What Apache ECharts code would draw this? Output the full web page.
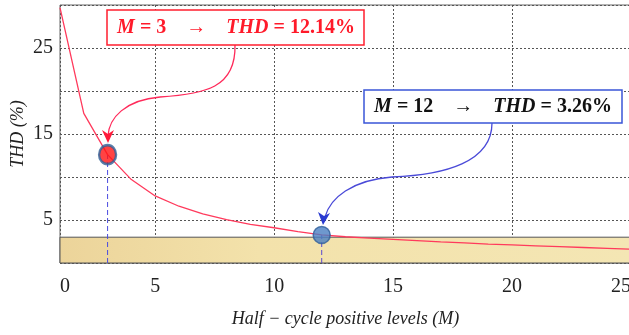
<!DOCTYPE html>
<html><head><meta charset="utf-8">
<script src="https://cdn.jsdelivr.net/npm/echarts@6/dist/echarts.min.js"></script>
<style>html,body{margin:0;padding:0;background:#fff}#c{width:629px;height:335px}</style>
</head><body><div id="c"></div>
<script>
const levels = [1,2,3,4,5,6,7,8,9,10,11,12,13,14,15,16,17,18,19,20,21,22,23,24,25];
const thd = [29.7,17.4,12.6,9.7,7.8,6.6,5.7,5.05,4.5,4.1,3.65,3.26,3.05,2.9,2.75,2.6,2.45,2.35,2.2,2.1,2.0,1.9,1.8,1.7,1.6];
const highlightM = [3, 12];
const highlightTHD = ['12.14', '3.26'];
const xTickValues = [1,5,10,15,20,25];
const xTickLabels = ['0','5','10','15','20','25'];
const yLabelValues = [5,15,25];
const limitBand = [0, 3];

const chart = echarts.init(document.getElementById('c'));
const serif = 'Liberation Serif';
const idx = m => levels.indexOf(m);
const dotA = [highlightM[0], thd[idx(highlightM[0])]];
const dotB = [highlightM[1], thd[idx(highlightM[1])]];

function richLabel(m, v, color) {
  return {
    text: '{i|M}{n| = }{b|' + m + '}{n|    →    }{i|THD}{n| = }{b|' + v + '%}',
    rich: {
      i: {fontFamily: serif, fontStyle: 'italic', fontWeight: 'bold', fontSize: 20, fill: color},
      n: {fontFamily: serif, fontSize: 20, fontWeight: 'bold', fill: color},
      b: {fontFamily: serif, fontSize: 20, fontWeight: 'bold', fill: color}
    }
  };
}

const option = {
  animation: false,
  backgroundColor: '#fff',
  grid: {left: 60, top: 5, width: 571, height: 258, show: true, borderColor: '#666', borderWidth: 1, backgroundColor: '#fff', outerBoundsMode: 'none', containLabel: false},
  xAxis: {
    type: 'value', min: 1, max: 25,
    axisLine: {show: false},
    axisTick: {show: false, customValues: xTickValues},
    axisLabel: {customValues: xTickValues, formatter: v => xTickLabels[xTickValues.indexOf(v)], fontFamily: serif, fontSize: 20, color: '#222', margin: 14, alignMinLabel: 'left', alignMaxLabel: 'right'},
    splitLine: {show: true, lineStyle: {color: '#555', type: [2, 2], width: 1}},
    name: 'Half − cycle positive levels (M)', nameLocation: 'middle', nameGap: 47,
    nameTextStyle: {fontFamily: serif, fontStyle: 'italic', fontSize: 18, color: '#222'}
  },
  yAxis: {
    type: 'value', min: 0, max: 30, interval: 5,
    axisLine: {show: false}, axisTick: {show: false},
    axisLabel: {formatter: v => yLabelValues.includes(v) ? String(v) : '', fontFamily: serif, fontSize: 20, color: '#222', margin: 7},
    splitLine: {show: true, lineStyle: {color: '#555', type: [2, 2], width: 1}},
    name: 'THD (%)', nameLocation: 'middle', nameGap: 33, nameMoveOverlap: false,
    nameTextStyle: {fontFamily: serif, fontStyle: 'italic', fontSize: 18, color: '#222'}
  },
  series: [
    {
      type: 'line', data: levels.map((m, i) => [m, thd[i]]), symbol: 'none', z: 3,
      lineStyle: {color: '#ff3a5c', width: 1.3},
      markArea: {
        silent: true,
        itemStyle: {
          color: new echarts.graphic.LinearGradient(0, 0, 1, 0, [
            {offset: 0, color: '#ecd49a'}, {offset: 0.35, color: '#f3e2ab'}, {offset: 1, color: '#f4e6b4'}
          ]),
          borderColor: '#555', borderWidth: 1
        },
        data: [[{yAxis: limitBand[0]}, {yAxis: limitBand[1]}]]
      }
    },
    {type: 'line', data: [[dotA[0], 0], dotA], symbol: 'none', z: 2, lineStyle: {color: '#4a4ae0', width: 1, type: [5, 3]}},
    {type: 'line', data: [[dotB[0], 0], dotB], symbol: 'none', z: 2, lineStyle: {color: '#5a4ad0', width: 1, type: [5, 3]}},
    {type: 'scatter', data: [dotA], symbolSize: [17, 19], z: 5, itemStyle: {color: '#ff1414', borderColor: '#2f5f96', borderWidth: 2.5}},
    {type: 'scatter', data: [dotB], symbolSize: 17, z: 5, itemStyle: {color: '#4a7ec2', borderColor: '#2e5e9a', borderWidth: 1.5}}
  ],
  graphic: [
    {type: 'bezierCurve', z: 10, shape: {x1: 235, y1: 45, cpx1: 236, cpy1: 88, cpx2: 205, cpy2: 94, x2: 160, y2: 97}, style: {stroke: '#ff2a5a', lineWidth: 1.3, fill: null}},
    {type: 'bezierCurve', z: 10, shape: {x1: 160, y1: 97, cpx1: 125, cpy1: 100, cpx2: 109, cpy2: 118, x2: 108, y2: 136}, style: {stroke: '#ff2a5a', lineWidth: 1.3, fill: null}},
    {type: 'polygon', z: 11, shape: {points: [[108, 143], [102, 130], [108, 134], [114, 130]]}, style: {fill: '#ff1a3a'}},
    {type: 'bezierCurve', z: 10, shape: {x1: 492, y1: 123, cpx1: 492, cpy1: 162, cpx2: 445, cpy2: 175, x2: 392, y2: 177}, style: {stroke: '#4a4ad8', lineWidth: 1.3, fill: null}},
    {type: 'bezierCurve', z: 10, shape: {x1: 392, y1: 177, cpx1: 352, cpy1: 180, cpx2: 330, cpy2: 198, x2: 325, y2: 217}, style: {stroke: '#4a4ad8', lineWidth: 1.3, fill: null}},
    {type: 'polygon', z: 11, shape: {points: [[323, 225], [318, 212], [324, 216], [330, 213]]}, style: {fill: '#2a3ad0'}},
    {type: 'rect', z: 12, shape: {x: 107, y: 10, width: 257, height: 35}, style: {fill: '#fff', stroke: '#ff1e2e', lineWidth: 1.5}},
    {type: 'text', z: 13, x: 236, y: 28, style: Object.assign(richLabel(highlightM[0], highlightTHD[0], '#ff1a2a'), {align: 'center', verticalAlign: 'middle'})},
    {type: 'rect', z: 12, shape: {x: 364, y: 90, width: 258, height: 33}, style: {fill: '#fff', stroke: '#3a55d8', lineWidth: 1.5}},
    {type: 'text', z: 13, x: 493, y: 107, style: Object.assign(richLabel(highlightM[1], highlightTHD[1], '#111'), {align: 'center', verticalAlign: 'middle'})}
  ]
};
chart.setOption(option);
</script>
</body></html>
